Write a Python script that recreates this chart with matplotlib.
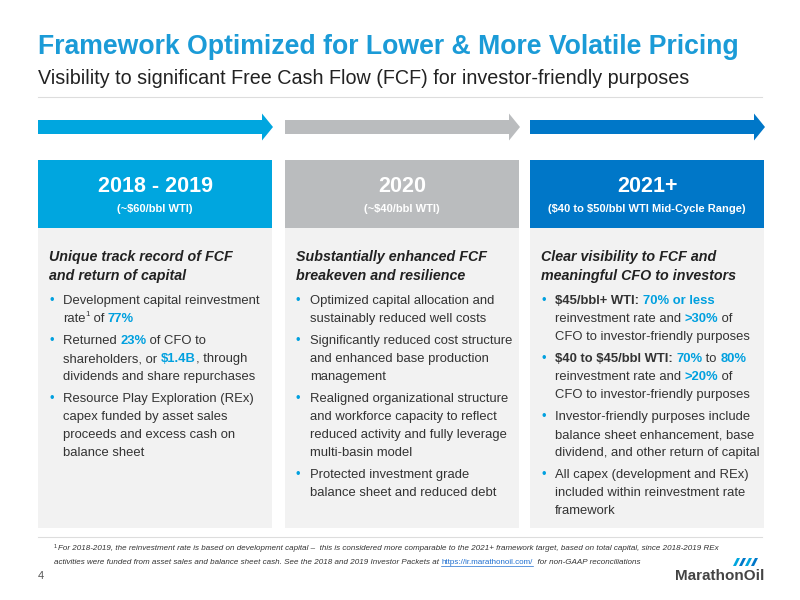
import matplotlib.pyplot as plt
from matplotlib.patches import Rectangle, FancyArrow, Polygon

plt.rcParams["font.family"] = ["Liberation Sans", "DejaVu Sans"]
plt.rcParams["text.parse_math"] = False

TITLE = "Framework Optimized for Lower & More Volatile Pricing"
SUBTITLE = "Visibility to significant Free Cash Flow (FCF) for investor-friendly purposes"
periods = ["2018 - 2019", "2020", "2021+"]
prices = ["(~$60/bbl WTI)", "(~$40/bbl WTI)", "($40 to $50/bbl WTI Mid-Cycle Range)"]
period_colors = ["#00A6DF", "#BABCBE", "#0077C8"]
headings = [
    ["Unique track record of FCF", "and return of capital"],
    ["Substantially enhanced FCF", "breakeven and resilience"],
    ["Clear visibility to FCF and", "meaningful CFO to investors"],
]

B = "#00A0DF"  # highlight colour
K = "#333333"
# bullets: list of lines, each line a list of (text, colour, bold, superscript)
bullets = [
    [
        [[("Development capital reinvestment", K, 0, 0)],
         [("rate", K, 0, 0), ("1", K, 0, 1), (" of ", K, 0, 0), ("77%", B, 1, 0)]],
        [[("Returned ", K, 0, 0), ("23%", B, 1, 0), (" of CFO to", K, 0, 0)],
         [("shareholders, or ", K, 0, 0), ("$1.4B", B, 1, 0), (", through", K, 0, 0)],
         [("dividends and share repurchases", K, 0, 0)]],
        [[("Resource Play Exploration (REx)", K, 0, 0)],
         [("capex funded by asset sales", K, 0, 0)],
         [("proceeds and excess cash on", K, 0, 0)],
         [("balance sheet", K, 0, 0)]],
    ],
    [
        [[("Optimized capital allocation and", K, 0, 0)],
         [("sustainably reduced well costs", K, 0, 0)]],
        [[("Significantly reduced cost structure", K, 0, 0)],
         [("and enhanced base production", K, 0, 0)],
         [("management", K, 0, 0)]],
        [[("Realigned organizational structure", K, 0, 0)],
         [("and workforce capacity to reflect", K, 0, 0)],
         [("reduced activity and fully leverage", K, 0, 0)],
         [("multi-basin model", K, 0, 0)]],
        [[("Protected investment grade", K, 0, 0)],
         [("balance sheet and reduced debt", K, 0, 0)]],
    ],
    [
        [[("$45/bbl+ WTI: ", K, 1, 0), ("70% or less", B, 1, 0)],
         [("reinvestment rate and ", K, 0, 0), (">30%", B, 1, 0), (" of", K, 0, 0)],
         [("CFO to investor-friendly purposes", K, 0, 0)]],
        [[("$40 to $45/bbl WTI: ", K, 1, 0), ("70%", B, 1, 0), (" to ", K, 0, 0), ("80%", B, 1, 0)],
         [("reinvestment rate and ", K, 0, 0), (">20%", B, 1, 0), (" of", K, 0, 0)],
         [("CFO to investor-friendly purposes", K, 0, 0)]],
        [[("Investor-friendly purposes include", K, 0, 0)],
         [("balance sheet enhancement, base", K, 0, 0)],
         [("dividend, and other return of capital", K, 0, 0)]],
        [[("All capex (development and REx)", K, 0, 0)],
         [("included within reinvestment rate", K, 0, 0)],
         [("framework", K, 0, 0)]],
    ],
]
FOOTNOTE = [
    "For 2018-2019, the reinvestment rate is based on development capital \u2013  this is considered more comparable to the 2021+ framework target, based on total capital, since 2018-2019 REx",
    "activities were funded from asset sales and balance sheet cash. See the 2018 and 2019 Investor Packets at ",
]
FOOT_LINK = "https://ir.marathonoil.com/"
FOOT_END = "  for non-GAAP reconciliations"

fig = plt.figure(figsize=(8, 6), dpi=100)
ax = fig.add_axes([0, 0, 1, 1])
ax.set_xlim(0, 800)
ax.set_ylim(600, 0)
ax.axis("off")
renderer = fig.canvas.get_renderer()


def runs(x, y, segs, size=9.4, style="normal"):
    for text, color, bold, sup in segs:
        t = ax.text(x, y - (4 if sup else 0), text, color=color,
                    fontsize=size * (0.6 if sup else 1), style=style,
                    fontweight="bold" if bold else "normal", va="center")
        x += t.get_window_extent(renderer).width
    return x


ax.text(38, 47, TITLE, fontsize=19.2, fontweight="bold", color="#1B9BD7", va="center")
ax.text(38, 79, SUBTITLE, fontsize=14.2, color="#222222", va="center")
ax.plot([38, 762], [97, 97], color="#DDDDDD", lw=0.8)

col_x = [38, 285, 530]
col_w = 234
for i in range(3):
    x0 = col_x[i]
    ax.add_patch(FancyArrow(x0, 127, col_w - 10, 0, width=14, head_width=27,
                            head_length=11, length_includes_head=False,
                            color=period_colors[i], lw=0))
    ax.add_patch(Rectangle((x0, 160), col_w, 68, color=period_colors[i], lw=0))
    ax.add_patch(Rectangle((x0, 228), col_w, 300, color="#F2F2F2", lw=0))
    cx = x0 + col_w / 2
    ax.text(cx, 186, periods[i], fontsize=15.5, fontweight="bold", color="white",
            ha="center", va="center")
    ax.text(cx, 209, prices[i], fontsize=8, fontweight="bold", color="white",
            ha="center", va="center")
    for j, h in enumerate(headings[i]):
        ax.text(x0 + 11, 257 + 19 * j, h, fontsize=10.3, fontweight="bold",
                style="italic", color="#222222", va="center")
    y = 301
    for b in bullets[i]:
        ax.text(x0 + 11, y, "\u2022", fontsize=9.4, color=B, va="center")
        for line in b:
            runs(x0 + 25, y, line)
            y += 18
        y += 4

ax.plot([38, 762], [537, 537], color="#DDDDDD", lw=0.8)
ax.text(54, 547, "1", fontsize=4, color="#333333", va="center")
ax.text(58, 549, FOOTNOTE[0], fontsize=5.8, style="italic", color="#333333", va="center")
xe = runs(54, 562, [(FOOTNOTE[1], "#333333", 0, 0)], size=5.8, style="italic")
t = ax.text(xe, 562, FOOT_LINK, fontsize=5.8, color="#1F6FD0", va="center")
xl = xe + t.get_window_extent(renderer).width
ax.plot([xe, xl], [566, 566], color="#1F6FD0", lw=0.5)
ax.text(xl, 562, FOOT_END, fontsize=5.8, style="italic", color="#333333", va="center")
ax.text(38, 576, "4", fontsize=8, color="#555555", va="center")

# logo
ax.text(764, 576, "MarathonOil", fontsize=11, fontweight="bold", color="#444444",
        ha="right", va="center")
for k in range(4):
    xs = 733 + k * 6
    ax.add_patch(Polygon([[xs, 566], [xs + 3, 566], [xs + 7, 558], [xs + 4, 558]],
                         color="#0077C8" if k % 2 else "#00A6DF", lw=0))

fig.savefig("out.png", dpi=100)
